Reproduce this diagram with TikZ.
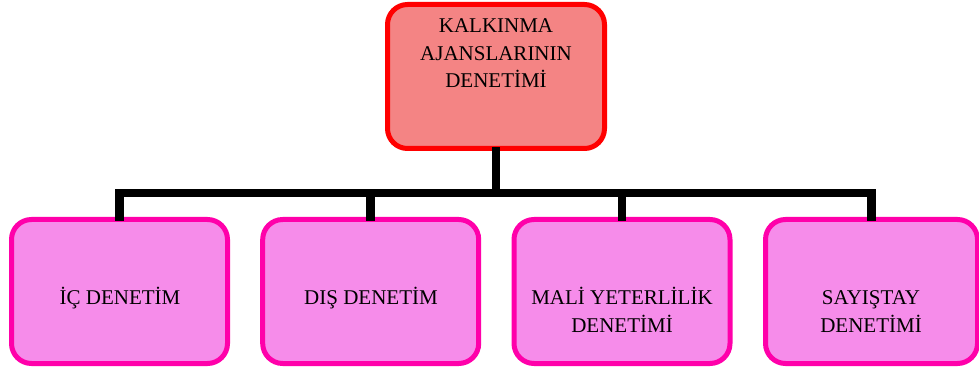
\documentclass[tikz,border=0pt]{standalone}
\usepackage{fontspec}
\setmainfont{Liberation Serif}
\definecolor{redborder}{RGB}{255,0,0}
\definecolor{redfill}{RGB}{244,132,132}
\definecolor{pinkborder}{RGB}{255,0,170}
\definecolor{pinkfill}{RGB}{246,140,234}
\tikzset{
  boxbase/.style={rounded corners=20pt, line width=5pt, minimum width=216pt, minimum height=144pt, inner sep=0pt},
  topbox/.style={boxbase, draw=redborder, fill=redfill, minimum width=217pt},
  subbox/.style={boxbase, draw=pinkborder, fill=pinkfill},
  boxtext/.style={align=center, inner sep=0pt, anchor=base, font=\fontsize{21pt}{27.5pt}\selectfont},
  conn/.style={line width=8.5pt, black, line cap=rect, line join=miter}
}
\begin{document}
\begin{tikzpicture}[x=1pt,y=1pt]
\useasboundingbox (0,0) rectangle (979,372);
% boxes
\node[topbox] (top) at (496,295.5) {};
\node[subbox] (b1) at (119.5,80.5) {};
\node[subbox] (b2) at (370.7,80.5) {};
\node[subbox] (b3) at (622,80.5) {};
\node[subbox, minimum width=212pt] (b4) at (871.5,80.5) {};
% connectors
\coordinate (bus) at (496,179);
\draw[conn] (top.south) -- (top.south |- bus);
\draw[conn] (b1.north) -- (b1.north |- bus) -- (b4.north |- bus) -- (b4.north);
\draw[conn] (b2.north) -- (b2.north |- bus);
\draw[conn] (b3.north) -- (b3.north |- bus);
% texts (anchored at the baseline of the last line)
\node[boxtext] (toptext) at (496,284) {KALKINMA\\AJANSLARININ\\DENETİMİ};
\node[boxtext] (t1) at (120,67.5) {İÇ DENETİM};
\node[boxtext] (t2) at (371,67.5) {DIŞ DENETİM};
\node[boxtext] (t3) at (622,40) {MALİ YETERLİLİK\\DENETİMİ};
\node[boxtext] (t4) at (871,40) {SAYIŞTAY\\DENETİMİ};
\end{tikzpicture}
\end{document}
